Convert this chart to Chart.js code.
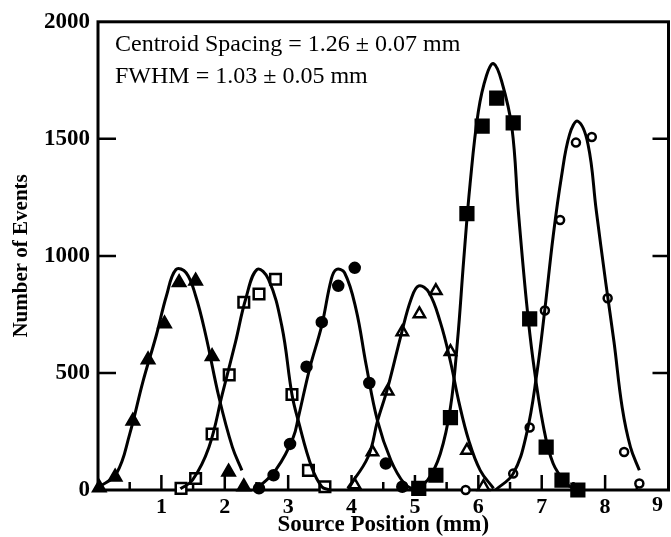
<!DOCTYPE html>
<html>
<head>
<meta charset="utf-8">
<script src="https://cdn.jsdelivr.net/npm/chart.js@4/dist/chart.umd.min.js"></script>
<style>
  html, body { margin: 0; padding: 0; background: #fff; overflow: hidden; }
  #wrap { position: absolute; left: 0; top: 0; width: 680px; height: 537px; }
</style>
</head>
<body>
<div id="wrap"><canvas id="myChart"></canvas></div>
<script>
// measured points, one array pair per source position
const triX = [0.02, 0.27, 0.55, 0.79, 1.05, 1.28, 1.54, 1.80, 2.06, 2.30];
const triY = [10, 56, 295, 556, 710, 886, 893, 570, 77, 14];
const openSqX = [1.31, 1.54, 1.80, 2.07, 2.30, 2.54, 2.80, 3.06, 3.32, 3.58];
const openSqY = [7, 49, 239, 492, 802, 837, 900, 408, 84, 14];
const dotX = [2.54, 2.77, 3.03, 3.29, 3.53, 3.79, 4.05, 4.28, 4.54, 4.80];
const dotY = [7, 63, 197, 527, 717, 872, 949, 457, 113, 14];
const openTriX = [4.05, 4.33, 4.57, 4.80, 5.07, 5.33, 5.56, 5.82, 6.08];
const openTriY = [21, 162, 422, 675, 752, 851, 591, 169, 14];
const fillSqX = [5.06, 5.33, 5.56, 5.82, 6.06, 6.29, 6.55, 6.81, 7.07, 7.32, 7.57];
const fillSqY = [7, 63, 309, 1181, 1554, 1674, 1568, 731, 183, 42, 0];
const openCircX = [5.80, 6.55, 6.81, 7.05, 7.29, 7.54, 7.79, 8.04, 8.30, 8.54];
const openCircY = [0, 70, 267, 767, 1153, 1484, 1508, 819, 162, 28];

// fitted curves
const fit1X = [0, 0.29, 0.50, 0.71, 0.92, 1.08, 1.23, 1.39, 1.54, 1.70, 1.91, 2.12, 2.27];
const fit1Y = [10, 70, 239, 464, 661, 830, 942, 928, 830, 661, 394, 183, 84];
const fit2X = [1.30, 1.49, 1.75, 1.96, 2.17, 2.33, 2.51, 2.69, 2.90, 3.06, 3.16, 3.37, 3.53, 3.65];
const fit2Y = [5, 42, 183, 408, 633, 816, 942, 900, 700, 408, 295, 98, 14, 0];
const fit3X = [2.48, 2.80, 3.08, 3.16, 3.34, 3.53, 3.68, 3.76, 3.89, 4.07, 4.23, 4.41, 4.62, 4.83, 4.99];
const fit3Y = [0, 84, 225, 309, 520, 703, 900, 942, 928, 773, 535, 295, 127, 28, 0];
const fit4X = [3.94, 4.26, 4.41, 4.57, 4.78, 4.94, 5.06, 5.22, 5.40, 5.56, 5.69, 5.85, 6.03, 6.24];
const fit4Y = [7, 141, 295, 436, 661, 816, 872, 844, 717, 549, 380, 211, 84, 7];
const fit5X = [4.99, 5.20, 5.40, 5.56, 5.67, 5.77, 5.87, 6.00, 6.13, 6.24, 6.37, 6.53, 6.63, 6.76, 6.86, 7.02, 7.18, 7.39, 7.54];
const fit5Y = [0, 42, 155, 352, 633, 985, 1308, 1617, 1772, 1821, 1744, 1547, 1195, 802, 562, 281, 113, 28, 0];
const fit6X = [6.27, 6.55, 6.76, 6.92, 7.05, 7.18, 7.31, 7.44, 7.57, 7.73, 7.86, 8.01, 8.14, 8.27, 8.40, 8.54];
const fit6Y = [0, 70, 239, 492, 773, 1083, 1336, 1519, 1575, 1477, 1195, 886, 633, 351, 183, 84];

const xTickLabels = ['1', '2', '3', '4', '5', '6', '7', '8', '9'];
const yTickValues = [500, 1000, 1500];
const noteLines = ['Centroid Spacing = 1.26 \u00b1 0.07 mm', 'FWHM = 1.03 \u00b1 0.05 mm'];

const serif = "'Liberation Serif', 'Times New Roman', serif";

function pts(xs, ys) {
    return xs.map((x, i) => ({ x: x, y: ys[i] }));
}

function curve(xs, ys) {
    return {
        data: pts(xs, ys),
        showLine: true,
        borderColor: '#000',
        borderWidth: 3,
        pointRadius: 0,
        tension: 0.4,
        clip: false
    };
}

function marks(xs, ys, style, filled, r) {
    return {
        data: pts(xs, ys),
        showLine: false,
        pointStyle: style,
        pointRadius: r,
        pointBackgroundColor: filled ? '#000' : '#fff',
        pointBorderColor: '#000',
        pointBorderWidth: 2.5,
        clip: false
    };
}

const framePlugin = {
    id: 'frame',
    beforeDatasetsDraw(chart) {
        const { ctx, chartArea: a, scales: { x, y } } = chart;
        ctx.save();
        ctx.strokeStyle = '#000';
        ctx.lineWidth = 3;
        ctx.strokeRect(a.left, a.top, a.right - a.left, a.bottom - a.top);
        ctx.lineWidth = 2.5;
        ctx.beginPath();
        yTickValues.forEach(v => {
            const py = y.getPixelForValue(v);
            ctx.moveTo(a.left, py); ctx.lineTo(a.left + 18, py);
            ctx.moveTo(a.right, py); ctx.lineTo(a.right - 16, py);
        });
        for (let v = 0.5; v < 9; v += 0.5) {
            const px = x.getPixelForValue(v);
            const len = Number.isInteger(v) ? 15 : 8;
            ctx.moveTo(px, a.bottom); ctx.lineTo(px, a.bottom - len);
        }
        ctx.stroke();
        ctx.restore();
    },
    afterDraw(chart) {
        const { ctx, chartArea: a, scales: { x } } = chart;
        ctx.save();
        ctx.fillStyle = '#000';
        ctx.font = '24px ' + serif;
        ctx.textBaseline = 'alphabetic';
        ctx.fillText(noteLines[0], 115, 51);
        ctx.fillText(noteLines[1], 115, 83);
        // last label sits a bit left of its tick in the original
        ctx.font = 'bold 22px ' + serif;
        ctx.textAlign = 'center';
        ctx.textBaseline = 'top';
        ctx.fillText(xTickLabels[8], x.getPixelForValue(9) - 11, a.bottom + 4);
        ctx.restore();
    }
};

const ctx = document.getElementById('myChart').getContext('2d');
const myChart = new Chart(ctx, {
    type: 'scatter',
    data: {
        datasets: [
            curve(fit1X, fit1Y), curve(fit2X, fit2Y), curve(fit3X, fit3Y),
            curve(fit4X, fit4Y), curve(fit5X, fit5Y), curve(fit6X, fit6Y),
            marks(triX, triY, 'triangle', true, 7),
            marks(openSqX, openSqY, 'rect', false, 7.5),
            marks(dotX, dotY, 'circle', true, 5),
            marks(openTriX, openTriY, 'triangle', false, 6.5),
            marks(fillSqX, fillSqY, 'rect', true, 9),
            marks(openCircX, openCircY, 'circle', false, 4)
        ]
    },
    options: {
        responsive: true,
        maintainAspectRatio: false,
        animation: false,
        events: [],
        layout: { padding: { top: 16, right: 7, left: 0, bottom: 0 } },
        plugins: { legend: { display: false }, tooltip: { enabled: false } },
        scales: {
            x: {
                type: 'linear',
                min: 0,
                max: 9,
                grid: { display: false, drawTicks: false },
                border: { display: false },
                ticks: {
                    stepSize: 1,
                    autoSkip: false,
                    maxRotation: 0,
                    padding: 4,
                    color: '#000',
                    font: { family: serif, size: 22, weight: 'bold' },
                    callback: v => (v >= 1 && v <= 8 && Number.isInteger(v)) ? xTickLabels[v - 1] : ''
                },
                title: {
                    display: true,
                    text: 'Source Position (mm)',
                    color: '#000',
                    padding: { top: 0, bottom: 0 },
                    font: { family: serif, size: 23, weight: 'bold', lineHeight: 1 }
                },
                afterFit: s => { s.height = 47; }
            },
            y: {
                min: 0,
                max: 2000,
                grid: { display: false, drawTicks: false },
                border: { display: false },
                ticks: {
                    stepSize: 500,
                    padding: 8,
                    color: '#000',
                    font: { family: serif, size: 23, weight: 'bold' },
                    callback: v => String(v)
                },
                title: {
                    display: true,
                    text: 'Number of Events',
                    color: '#000',
                    padding: { top: 9, bottom: 0 },
                    font: { family: serif, size: 21, weight: 'bold' }
                },
                afterFit: s => { s.width = 98; }
            }
        }
    },
    plugins: [framePlugin]
});
</script>
</body>
</html>
